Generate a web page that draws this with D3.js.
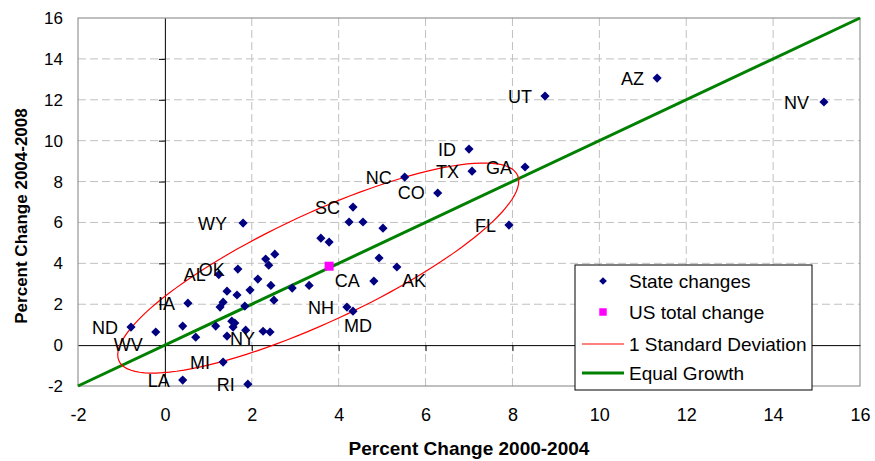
<!DOCTYPE html>
<html>
<head>
<meta charset="utf-8">
<script src="https://cdn.jsdelivr.net/npm/d3@7"></script>
<style>
  body { margin: 0; background: #fff; }
  text { font-family: "Liberation Sans", Arial, sans-serif; fill: #000; }
</style>
</head>
<body>
<div id="chart-area"></div>
<script>
// Data (percent population change by state)
let stateLabels = [
  "NV", "AZ", "UT", "ID", "TX", "GA", "NC", "CO", "FL", "SC", "WY", "OK",
  "AL", "IA", "ND", "WV", "CA", "AK", "NH", "MD", "NY", "MI", "LA", "RI",
  "", "", "", "", "", "", "", "", "", "", "", "", "", "", "",
  "", "", "", "", "", "", "", "", "", "", "", "", "", ""
];
let change0004 = [
  15.17, 11.33, 8.75, 7.00, 7.07, 8.29, 5.52, 6.28, 7.92, 4.33, 1.80, 1.68,
  1.24, 0.53, -0.78, -0.21, 4.81, 5.34, 4.19, 4.33, 2.26, 1.34, 0.41, 1.91,
  4.24, 4.56, 5.02, 3.59, 3.78, 4.93, 2.93, 3.32, 2.32, 2.53, 2.39, 2.14, 1.96, 2.44, 1.43,
  1.66, 2.51, 1.34, 1.27, 1.84, 0.41, 0.71, 1.17, 1.43, 1.54, 1.61, 1.57, 1.86, 2.42
];
let change0408 = [
  11.89, 13.06, 12.18, 9.59, 8.51, 8.71, 8.22, 7.44, 5.87, 6.75, 5.97, 3.72,
  3.45, 2.05, 0.88, 0.64, 3.13, 3.82, 1.86, 1.66, 0.68, -0.83, -1.71, -1.91,
  6.02, 6.02, 5.72, 5.23, 5.04, 4.26, 2.79, 2.92, 4.21, 4.45, 3.91, 3.23, 2.69, 2.92, 2.64,
  2.45, 2.20, 2.10, 1.86, 1.91, 0.93, 0.39, 0.93, 0.44, 1.17, 1.08, 0.88, 0.73, 0.64
];
let usTotal = [3.78, 3.86];

// 1 standard deviation ellipse: centre and covariance (xx, xy, yy)
let sdCenter = [3.53, 3.77];
let sdCov = [21.3, 19.6, 26.4];

let equalGrowth = [-2, 16];
let tickValues = [-2, 0, 2, 4, 6, 8, 10, 12, 14, 16];
let legendNames = ["State changes", "US total change", "1 Standard Deviation", "Equal Growth"];

// SVG container
let margin = { top: 18, right: 15, bottom: 75, left: 78 };
let width = 875 - margin.left - margin.right,
  height = 461 - margin.top - margin.bottom;

let root = d3.select("#chart-area")
  .append("svg")
  .attr("width", 875)
  .attr("height", 461);

let svg = root.append("g")
  .attr("transform", "translate(" + margin.left + "," + margin.top + ")");

// Scales
let x = d3.scaleLinear().domain([-2, 16]).range([0, width]);
let y = d3.scaleLinear().domain([-2, 16]).range([height, 0]);

// Dashed grid
let inner = tickValues.filter(v => v != -2 && v != 0 && v != 16);
svg.selectAll(".hgrid").data(inner).enter().append("line")
  .attr("x1", 0).attr("x2", width)
  .attr("y1", d => y(d)).attr("y2", d => y(d))
  .attr("stroke", "#c0c0c0").attr("stroke-dasharray", "8,4");
svg.selectAll(".vgrid").data(inner).enter().append("line")
  .attr("y1", 0).attr("y2", height)
  .attr("x1", d => x(d)).attr("x2", d => x(d))
  .attr("stroke", "#c0c0c0").attr("stroke-dasharray", "8,4");

// Plot border
svg.append("rect")
  .attr("width", width).attr("height", height)
  .attr("fill", "none").attr("stroke", "#808080");

// Zero axes with small ticks
let yZero = d3.axisLeft(y).tickValues(tickValues.slice(1, -1)).tickSize(6).tickFormat("").tickSizeOuter(0);
let xZero = d3.axisBottom(x).tickValues(tickValues.slice(1, -1)).tickSize(6).tickFormat("").tickSizeOuter(0);
svg.append("g").attr("transform", "translate(" + x(0) + ",0)").call(yZero)
  .call(g => g.selectAll("path,line").attr("stroke", "#000"));
svg.append("g").attr("transform", "translate(0," + y(0) + ")").call(xZero)
  .call(g => g.selectAll("path,line").attr("stroke", "#000"));

// Tick labels on the plot edges (plain hyphen for negatives)
let yAxis = d3.axisLeft(y).tickValues(tickValues).tickSize(0).tickPadding(15).tickFormat(d => String(d));
let xAxis = d3.axisBottom(x).tickValues(tickValues).tickSize(0).tickPadding(22).tickFormat(d => String(d));
svg.append("g").call(yAxis)
  .call(g => g.select(".domain").remove())
  .call(g => g.selectAll("text").style("font-size", "17px").attr("font-family", null));
svg.append("g").attr("transform", "translate(0," + height + ")").call(xAxis)
  .call(g => g.select(".domain").remove())
  .call(g => g.selectAll("text").style("font-size", "18px").attr("font-family", null));

// Axis titles
root.append("text")
  .text("Percent Change 2000-2004")
  .attr("x", margin.left + width / 2).attr("y", 455)
  .attr("text-anchor", "middle")
  .style("font-size", "19px").style("font-weight", "bold");
root.append("text")
  .text("Percent Change 2004-2008")
  .attr("transform", "translate(27,216) rotate(-90)")
  .attr("text-anchor", "middle")
  .style("font-size", "17px").style("font-weight", "bold");

// Equal growth line
svg.append("line")
  .attr("x1", x(equalGrowth[0])).attr("y1", y(equalGrowth[0]))
  .attr("x2", x(equalGrowth[1])).attr("y2", y(equalGrowth[1]))
  .attr("stroke", "#008000").attr("stroke-width", 3);

// Standard deviation ellipse (Cholesky of covariance)
let l11 = Math.sqrt(sdCov[0]),
  l21 = sdCov[1] / l11,
  l22 = Math.sqrt(sdCov[2] - l21 * l21);
let ellipse = d3.range(0, 361, 3).map(a => {
  let t = a * Math.PI / 180;
  return [sdCenter[0] + l11 * Math.cos(t), sdCenter[1] + l21 * Math.cos(t) + l22 * Math.sin(t)];
});
svg.append("path")
  .datum(ellipse)
  .attr("fill", "none").attr("stroke", "#ff0000").attr("stroke-width", 1.2)
  .attr("d", d3.line().x(d => x(d[0])).y(d => y(d[1])).curve(d3.curveLinearClosed));

// State points
let states = stateLabels.map((s, i) => ({ name: s, a: change0004[i], b: change0408[i] }));
let diamond = d3.symbol(d3.symbolSquare, 42);
svg.selectAll(".state").data(states).enter().append("path")
  .attr("class", "state")
  .attr("d", diamond)
  .attr("fill", "#000080")
  .attr("transform", d => "translate(" + x(d.a) + "," + y(d.b) + ") rotate(45)");

// US total
svg.append("path")
  .attr("d", d3.symbol(d3.symbolSquare, 81))
  .attr("fill", "#ff00ff")
  .attr("transform", "translate(" + x(usTotal[0]) + "," + y(usTotal[1]) + ")");

// State labels (offsets in px from the point)
let labelOffsets = {
  AK: [5, 14, "start"], MD: [-9, 14, "start"], WV: [-13, 12, "end"],
  NY: [-8, 7, "end"], CA: [-14, -1, "end"], NV: [-15, 0, "end"], WY: [-16, 0, "end"]
};
svg.selectAll(".lbl").data(states.filter(d => d.name != "")).enter().append("text")
  .attr("class", "lbl")
  .text(d => d.name)
  .attr("x", d => x(d.a) + (labelOffsets[d.name] || [-13])[0])
  .attr("y", d => y(d.b) + (labelOffsets[d.name] ? labelOffsets[d.name][1] : 0))
  .attr("dy", "0.36em")
  .attr("text-anchor", d => labelOffsets[d.name] ? labelOffsets[d.name][2] : "end")
  .style("font-size", "18px");

// Legend
let legend = svg.append("g").attr("transform", "translate(497,247)");
legend.append("rect")
  .attr("width", 237).attr("height", 125)
  .attr("fill", "#fff").attr("stroke", "#000");
let rows = [16, 47, 79, 108];
legend.selectAll(".ltext").data(legendNames).enter().append("text")
  .text(d => d)
  .attr("x", 54).attr("y", (d, i) => rows[i]).attr("dy", "0.36em")
  .style("font-size", "19px");
legend.append("path").attr("d", d3.symbol(d3.symbolSquare, 30)).attr("fill", "#000080")
  .attr("transform", "translate(28," + rows[0] + ") rotate(45)");
legend.append("path").attr("d", d3.symbol(d3.symbolSquare, 56)).attr("fill", "#ff00ff")
  .attr("transform", "translate(28," + rows[1] + ")");
legend.append("line").attr("x1", 7).attr("x2", 49).attr("y1", rows[2]).attr("y2", rows[2])
  .attr("stroke", "#ff0000").attr("stroke-width", 1.2);
legend.append("line").attr("x1", 7).attr("x2", 49).attr("y1", rows[3]).attr("y2", rows[3])
  .attr("stroke", "#008000").attr("stroke-width", 3);
</script>
</body>
</html>
